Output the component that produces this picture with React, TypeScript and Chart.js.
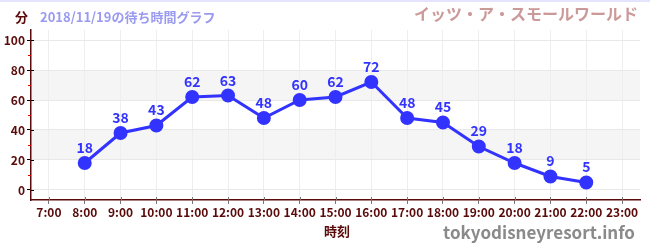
import React, { useEffect, useRef } from "react";
import { Chart, registerables } from "chart.js";

Chart.register(...registerables);

const hours: string[] = ["7:00","8:00","9:00","10:00","11:00","12:00","13:00","14:00","15:00","16:00","17:00","18:00","19:00","20:00","21:00","22:00","23:00"];
const waitMinutes: (number | null)[] = [null,18,38,43,62,63,48,60,62,72,48,45,29,18,9,5,null];
const yTicks: number[] = [0,20,40,60,80,100];
const yMinorTicks: number[] = [10,30,50,70,90];
const bands: [number, number][] = [[20,40],[60,80]];

const unitLabel = "分";
const dateTitle = "2018/11/19の待ち時間グラフ";
const attraction = "イッツ・ア・スモールワールド";
const xTitle = "時刻";
const watermark = "tokyodisneyresort.info";

const JP = '"Noto Sans CJK JP", "Noto Sans", sans-serif';
const DARK = "#5a0a0a";
const BLUE = "#3333ff";

export default function App() {
  const ref = useRef<HTMLCanvasElement | null>(null);
  useEffect(() => {
    document.body.style.margin = "0";
    const decor = {
      id: "decor",
      beforeDraw(chart: any) {
        const { ctx, chartArea, scales } = chart;
        const y = scales.y;
        ctx.save();
        ctx.fillStyle = "#f5f5f5";
        for (const [a, b] of bands) {
          const t = y.getPixelForValue(b);
          const bt = y.getPixelForValue(a);
          ctx.fillRect(chartArea.left, t, chartArea.right - chartArea.left, bt - t);
        }
        ctx.strokeStyle = "#e4e4ff";
        ctx.lineWidth = 2;
        ctx.beginPath();
        ctx.moveTo(0, 1);
        ctx.lineTo(650, 1);
        ctx.stroke();
        ctx.restore();
      },
      afterDraw(chart: any) {
        const { ctx, chartArea, scales } = chart;
        const y = scales.y;
        const x = scales.x;
        ctx.save();
        ctx.strokeStyle = "#dd0000";
        ctx.lineWidth = 1;
        for (const v of yMinorTicks) {
          const p = Math.round(y.getPixelForValue(v)) + 0.5;
          ctx.beginPath();
          ctx.moveTo(chartArea.left - 3, p);
          ctx.lineTo(chartArea.left, p);
          ctx.stroke();
        }
        ctx.strokeStyle = "#000000";
        for (const v of yTicks) {
          const p = Math.round(y.getPixelForValue(v)) + 0.5;
          ctx.beginPath();
          ctx.moveTo(chartArea.left, p);
          ctx.lineTo(chartArea.left + 3, p);
          ctx.stroke();
        }
        ctx.strokeStyle = "#777777";
        hours.forEach((_, i) => {
          const p = Math.round(x.getPixelForValue(i)) + 0.5;
          ctx.beginPath();
          ctx.moveTo(p, chartArea.bottom - 3);
          ctx.lineTo(p, chartArea.bottom);
          ctx.stroke();
        });
        ctx.textBaseline = "middle";
        ctx.font = `bold 13px ${JP}`;
        ctx.fillStyle = DARK;
        ctx.textAlign = "left";
        ctx.fillText(unitLabel, 15, 17);
        ctx.font = `bold 13px ${JP}`;
        ctx.fillStyle = "#9a9af0";
        ctx.fillText(dateTitle, 40, 17);
        ctx.font = `bold 16px ${JP}`;
        ctx.fillStyle = "#cc9999";
        ctx.textAlign = "right";
        ctx.fillText(attraction, 638, 14);
        ctx.font = `bold 13px ${JP}`;
        ctx.fillStyle = DARK;
        ctx.textAlign = "center";
        ctx.fillText(xTitle, 337, 231);
        ctx.font = `bold 17px ${JP}`;
        ctx.fillStyle = "#8a8a8a";
        ctx.textAlign = "right";
        ctx.fillText(watermark, 635, 233);
        const meta = chart.getDatasetMeta(0);
        ctx.font = `bold 14px ${JP}`;
        ctx.fillStyle = BLUE;
        ctx.textAlign = "center";
        ctx.textBaseline = "alphabetic";
        meta.data.forEach((pt: any, i: number) => {
          const v = waitMinutes[i];
          if (v == null) return;
          ctx.fillText(String(v), pt.x, pt.y - 10);
        });
        ctx.restore();
      },
    };
    const chart = new Chart(ref.current as HTMLCanvasElement, {
      type: "line",
      data: {
        labels: hours,
        datasets: [
          {
            data: waitMinutes,
            borderColor: BLUE,
            backgroundColor: BLUE,
            borderWidth: 3,
            pointRadius: 5.5,
            pointHoverRadius: 5.5,
            pointBackgroundColor: BLUE,
            pointBorderColor: BLUE,
            tension: 0,
            spanGaps: false,
          },
        ],
      },
      options: {
        animation: false,
        responsive: false,
        events: [],
        layout: { padding: { top: 30, right: 10, left: 0, bottom: 0 } },
        plugins: { legend: { display: false }, tooltip: { enabled: false } },
        scales: {
          x: {
            offset: true,
            afterFit: (s: any) => { s.height = 50; },
            grid: {
              color: "#eeeeee",
              borderDash: [4, 4],
              offset: false,
              drawTicks: true,
              tickLength: 4,
              tickColor: "#777777",
            } as any,
            border: { color: DARK, width: 1.5 } as any,
            ticks: {
              color: DARK,
              font: { family: JP, size: 12, weight: "bold" },
              padding: 1,
              maxRotation: 0,
              autoSkip: false,
            },
          },
          y: {
            min: -6.67,
            max: 106.67,
            afterFit: (s: any) => { s.width = 31; },
            afterBuildTicks: (s: any) => { s.ticks = yTicks.map((v) => ({ value: v })); },
            grid: {
              color: "#e8e8e8",
              borderDash: [4, 4],
              drawTicks: true,
              tickLength: 4,
              tickColor: "#000000",
            } as any,
            border: { color: DARK, width: 1.5 },
            ticks: {
              color: DARK,
              font: { family: JP, size: 12, weight: "bold" },
              padding: 2,
            },
          },
        },
      },
      plugins: [decor],
    });
    return () => chart.destroy();
  }, []);
  return (
    <div style={{ position: "absolute", left: 0, top: 0, width: 650, height: 250 }}>
      <canvas ref={ref} width={650} height={250} style={{ width: 650, height: 250 }} />
    </div>
  );
}
